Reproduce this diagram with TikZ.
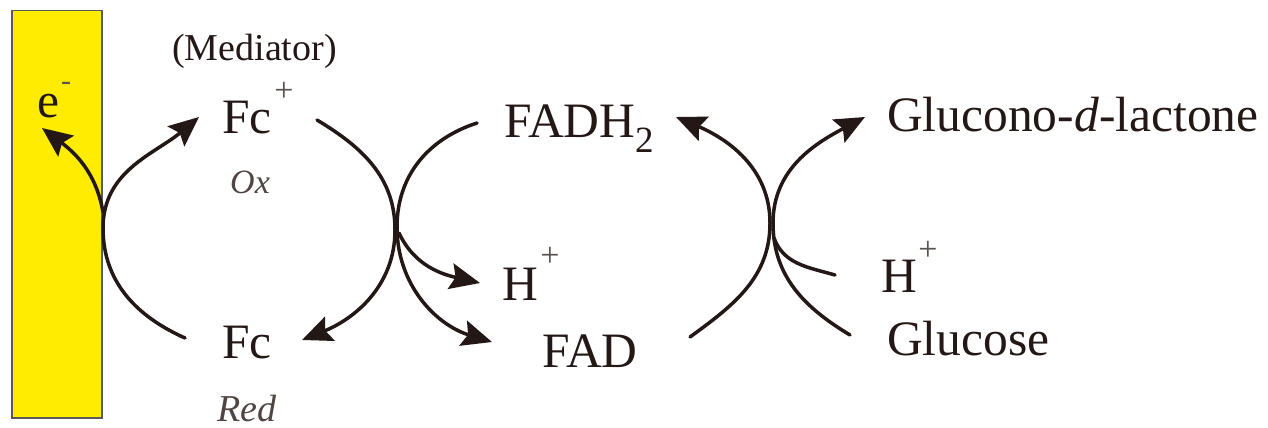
\documentclass[tikz,border=0pt]{standalone}
\usepackage{fontspec}
\setmainfont{Liberation Serif}
\usetikzlibrary{arrows.meta}
\definecolor{ink}{HTML}{231815}
\definecolor{electrode}{HTML}{FFEC00}
\begin{document}
\begin{tikzpicture}[x=1pt,y=1pt,
  lbl/.style={anchor=base west, inner sep=0pt, text=ink, font=\fontsize{49.5}{52}\selectfont},
  small/.style={anchor=base west, inner sep=0pt, text=ink, font=\fontsize{38}{40}\selectfont},
  plus/.style={anchor=center, inner sep=0pt, text=ink!75, font=\fontsize{34}{36}\selectfont},
  subs/.style={anchor=base west, inner sep=0pt, text=ink, font=\fontsize{37}{39}\selectfont},
  redox/.style={anchor=base west, inner sep=0pt, text=ink!80, font=\itshape\fontsize{34}{36}\selectfont},
  flow/.style={draw=ink, line width=3.5pt, line cap=round},
  head/.style={-{Stealth[length=30pt,width=26pt,inset=5pt]}},
]
\useasboundingbox (0,0) rectangle (1268,-428);
\fill[white] (0,0) rectangle (1268,-428);

% electrode
\node[draw=black!65, line width=1.5pt, fill=electrode, minimum width=90pt, minimum height=407pt, inner sep=0pt, anchor=north west] (electrode) at (11,-10) {};
\node[lbl] (e) at (37,-117) {e};
\node[plus, font=\fontsize{30}{32}\selectfont] (eminus) at (66,-86) {-};

% mediator
\node[small] (mediator) at (172,-60) {(Mediator)};
\node[lbl] (fcox) at (222,-133) {Fc};
\node[plus] (fcoxplus) at (284,-92) {+};
\node[redox] (ox) at (230,-193) {Ox};
\node[lbl] (fcred) at (222,-358) {Fc};
\node[redox, font=\itshape\fontsize{38}{40}\selectfont] (red) at (217,-421) {Red};

% enzyme
\node[lbl] (fadh) at (504,-137) {FADH};
\node[subs] (fadhsub) at (635,-152) {2};
\node[lbl] (hmid) at (502,-300) {H};
\node[plus] (hmidplus) at (550,-257) {+};
\node[lbl] (fad) at (542,-367) {FAD};

% substrate
\node[lbl] (glucono) at (887,-131) {Glucono-\textit{d}-lactone};
\node[lbl] (hright) at (881,-292) {H};
\node[plus] (hrightplus) at (928,-251) {+};
\node[lbl] (glucose) at (887,-355) {Glucose};

% connector points
\coordinate (L1s) at (185,-338);
\coordinate (L1m) at (103,-228);
\coordinate (L1e) at (199,-117);
\coordinate (L2s) at (317,-120);
\coordinate (L2m) at (395,-230);
\coordinate (L2e) at (302,-340);
\coordinate (Es) at (103,-212);
\coordinate (Ee) at (42,-128);
\coordinate (M1s) at (477,-123);
\coordinate (M1m) at (397,-227);
\coordinate (M1e) at (492,-342);
\coordinate (Hs) at (399,-233);
\coordinate (He) at (480,-283);
\coordinate (M2s) at (690,-337);
\coordinate (M2m) at (770,-223);
\coordinate (M2e) at (676,-117);
\coordinate (R1s) at (850,-335);
\coordinate (R1m) at (773,-223);
\coordinate (R1e) at (865,-117);
\coordinate (HRs) at (835,-275);
\coordinate (HRe) at (774,-238);

% arcs
\draw[flow, head] (L1s) to[out=156,in=270] (L1m) to[out=90,in=220] (L1e);
\draw[flow, head] (Es) to[out=100,in=-37] (Ee);
\draw[flow, head] (L2s) to[out=-31,in=90] (L2m) to[out=270,in=22] (L2e);
\draw[flow, head] (M1s) to[out=198,in=90] (M1m) to[out=270,in=163] (M1e);
\draw[flow, head] (Hs) to[out=-65,in=167] (He);
\draw[flow, head] (M2s) to[out=36,in=270] (M2m) to[out=90,in=-23] (M2e);
\draw[flow, head] (R1s) to[out=149,in=270] (R1m) to[out=90,in=208] (R1e);
\draw[flow] (HRs) to[out=164,in=290] (HRe);
\end{tikzpicture}
\end{document}
